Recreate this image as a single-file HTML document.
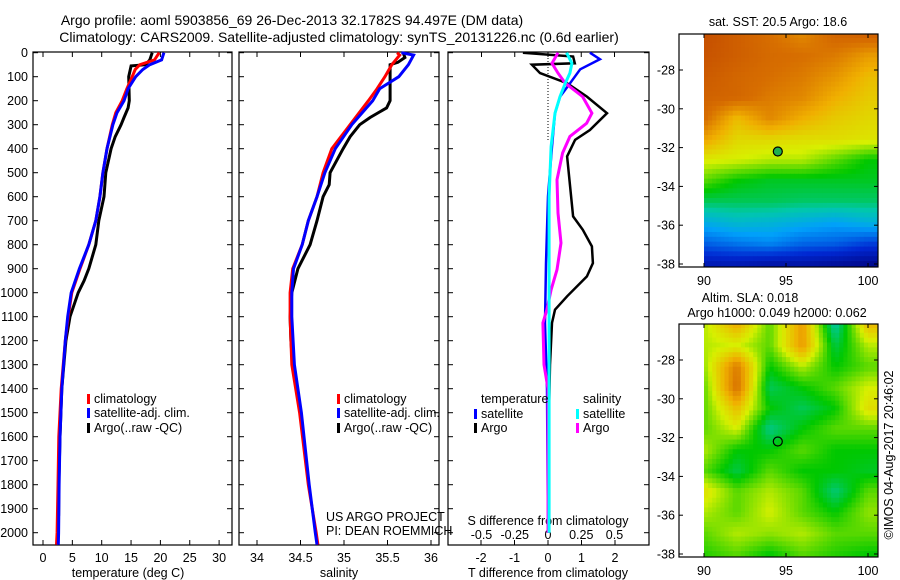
<!DOCTYPE html>
<html><head><meta charset="utf-8">
<style>
html,body{margin:0;padding:0;background:#fff;}
svg{display:block;font-family:"Liberation Sans",sans-serif;}
text{font-size:12.5px;fill:#000;}
</style></head>
<body>
<svg id="fig" width="900" height="580" viewBox="0 0 900 580" xmlns="http://www.w3.org/2000/svg">
<text x="292" y="25" text-anchor="middle" style="font-size:14px">Argo profile: aoml 5903856_69 26-Dec-2013 32.1782S 94.497E (DM data)</text>
<text x="339" y="42" text-anchor="middle" style="font-size:14px">Climatology: CARS2009. Satellite-adjusted climatology: synTS_20131226.nc (0.6d earlier)</text>
</svg>
<script>
// ---------- DATA ----------
const tempDepth = [0,30,50,70,100,150,200,250,300,400,500,600,700,800,900,1000,1100,1200,1400,1600,1800,2000,2050];
const tempClim  = [19.8,19,16.5,15.7,15.2,14.3,13.5,12.4,11.8,10.9,10.2,9.7,9.0,7.8,6.3,4.9,4.3,3.8,3.1,2.7,2.55,2.4,2.3];
const tempSat   = [20.6,20.2,18.2,17,15.8,14.5,13.8,12.6,11.9,10.9,10.2,9.7,9.0,7.8,6.2,4.8,4.2,3.8,3.2,2.9,2.75,2.65,2.6];
const argoDepth = [0,30,50,55,100,200,230,270,300,350,400,500,600,700,800,900,950,1000,1100,1200,1400,1600,1800,1930];
const tempArgo  = [18.6,18.2,17.5,15,14.6,14.7,14.5,13.8,13.3,12.3,11.6,10.7,10.4,9.5,9.0,7.8,7.0,6.0,4.6,3.9,3.2,2.9,2.7,2.65];
const salDepth  = [0,10,50,100,150,200,300,400,500,600,700,800,900,1000,1100,1300,1500,1800,2000,2050];
const salClim   = [35.61,35.64,35.55,35.47,35.38,35.28,35.07,34.86,34.76,34.69,34.59,34.52,34.41,34.38,34.38,34.40,34.49,34.59,34.68,34.70];
const salSat    = [35.66,35.80,35.74,35.63,35.41,35.33,35.09,34.90,34.78,34.69,34.59,34.52,34.42,34.40,34.40,34.43,34.51,34.60,34.67,34.69];
const salArgoDepth = [0,20,40,50,100,200,230,270,300,350,400,500,550,600,700,800,900,1000,1100,1200,1300];
const salArgo   = [35.68,35.70,35.62,35.53,35.53,35.53,35.49,35.30,35.18,35.07,34.99,34.84,34.83,34.76,34.69,34.61,34.47,34.40,34.38,34.39,34.41];
const dTArgoDepth = [0,16,44,50,85,127,183,252,322,363,432,557,682,738,807,877,932,1015,1071,1126,1300,1500,2000];
const dTArgo   = [-0.75,0.75,0.8,-0.48,-0.24,0.57,1.16,1.76,1.25,0.81,0.57,0.66,0.75,1.04,1.31,1.34,1.16,0.57,0.21,0.12,0.06,0.03,0.03];
const dTSatDepth = [0,27,69,127,183,252,391,599,877,1126,1400,2000];
const dTSat    = [1.25,1.55,0.96,0.66,0.36,0.21,0.12,0.0,-0.06,-0.09,-0.03,0.0];
const dSArgoDepth = [0,44,85,127,183,252,294,349,418,529,668,793,904,988,1071,1126,1300,1400,2000];
const dSArgo   = [0.075,0.03,0.075,0.13,0.26,0.33,0.29,0.165,0.11,0.068,0.075,0.098,0.068,0.023,-0.008,-0.038,-0.03,0.0,0.0];
const dSSatDepth = [0,44,85,127,183,252,391,599,2000];
const dSSat    = [0.14,0.18,0.165,0.13,0.09,0.053,0.023,0.008,0.008];
const depthTicks = [0,100,200,300,400,500,600,700,800,900,1000,1100,1200,1300,1400,1500,1600,1700,1800,1900,2000];
const tempTicks = [0,5,10,15,20,25,30];
const salTicks = [34,34.5,35,35.5,36];
const dTTicks = [-2,-1,0,1,2];
const dSTicks = [-0.5,-0.25,0,0.25,0.5];
const latTicks = [-28,-30,-32,-34,-36,-38];
const lonTicks = [90,95,100];
const gridLon = [90,92,94,96,98,100];
const gridLat = [-26.2,-27.27,-28.35,-29.42,-30.49,-31.56,-32.64,-33.71,-34.78,-35.85,-36.93,-38];
const sstGrid = [
[0.90,0.86,0.82,0.78,0.84,0.85],
[0.89,0.86,0.83,0.82,0.80,0.75],
[0.87,0.84,0.82,0.80,0.76,0.70],
[0.85,0.84,0.80,0.78,0.72,0.68],
[0.83,0.70,0.78,0.72,0.68,0.66],
[0.74,0.66,0.66,0.65,0.65,0.64],
[0.63,0.62,0.60,0.60,0.55,0.50],
[0.55,0.50,0.48,0.48,0.48,0.48],
[0.45,0.45,0.45,0.44,0.44,0.44],
[0.33,0.36,0.35,0.33,0.31,0.34],
[0.22,0.25,0.27,0.23,0.22,0.18],
[0.10,0.10,0.08,0.08,0.06,0.04]];
const slaGrid = [
[0.60,0.72,0.55,0.75,0.40,0.70],
[0.60,0.62,0.55,0.75,0.46,0.60],
[0.58,0.80,0.50,0.60,0.50,0.55],
[0.55,0.82,0.45,0.50,0.55,0.62],
[0.55,0.70,0.50,0.45,0.50,0.65],
[0.55,0.62,0.42,0.50,0.55,0.55],
[0.60,0.50,0.50,0.55,0.50,0.50],
[0.55,0.46,0.55,0.50,0.50,0.48],
[0.65,0.55,0.60,0.55,0.43,0.55],
[0.60,0.55,0.62,0.55,0.50,0.58],
[0.55,0.60,0.58,0.60,0.55,0.55],
[0.52,0.55,0.50,0.55,0.52,0.50]];
const argoPos = [94.5,-32.2];

// ---------- DRAWING ----------
const NS="http://www.w3.org/2000/svg";
const svg=document.getElementById('fig');
function mk(tag,attrs,parent){const e=document.createElementNS(NS,tag);for(const k in attrs)e.setAttribute(k,attrs[k]);(parent||svg).appendChild(e);return e;}
function txt(s,x,y,anchor,parent){const t=mk('text',{x:x,y:y,'text-anchor':anchor||'start'},parent);t.textContent=s;return t;}
const yD=d=>52.7+d*0.24;
const TOP=52,BOT=545;
function panel(x0,x1,name){
  const g=mk('g',{});
  
  
  const r=mk('rect',{x:x0,y:TOP,width:x1-x0,height:BOT-TOP,fill:'none',stroke:'#000','stroke-width':1.2},g);
  
  
  depthTicks.forEach(d=>{mk('line',{x1:x0,x2:x0+5,y1:yD(d),y2:yD(d),stroke:'#000'},g);mk('line',{x1:x1,x2:x1-5,y1:yD(d),y2:yD(d),stroke:'#000'},g);});
  return g;
}
function line(depths,vals,xf,color,w,name,parent){
  const p=mk('polyline',{points:depths.map((d,i)=>xf(vals[i]).toFixed(1)+','+yD(d).toFixed(1)).join(' '),fill:'none',stroke:color,'stroke-width':w,'stroke-linejoin':'miter'},parent);
  
  
}
// panel 1 temperature
const xT=v=>43+v*5.87;
const g1=panel(33,232,'temperature-panel');
depthTicks.forEach(d=>{const t=txt(String(d),28,yD(d)+4.5,'end',g1);});
tempTicks.forEach(v=>{mk('line',{x1:xT(v),x2:xT(v),y1:BOT,y2:BOT-5,stroke:'#000'},g1);mk('line',{x1:xT(v),x2:xT(v),y1:TOP,y2:TOP+5,stroke:'#000'},g1);const t=txt(String(v),xT(v),562,'middle',g1);});
{const t=txt('temperature (deg C)',128,577,'middle',g1);}
line(argoDepth,tempArgo,xT,'#000',3,'temp-argo-line',g1);
line(tempDepth,tempClim,xT,'#f00',3,'temp-climatology-line',g1);
line(tempDepth,tempSat,xT,'#00f',3,'temp-satellite-line',g1);
// panel 2 salinity
const xS=v=>257+(v-34)*87;
const g2=panel(239,439,'salinity-panel');
salTicks.forEach(v=>{mk('line',{x1:xS(v),x2:xS(v),y1:BOT,y2:BOT-5,stroke:'#000'},g2);mk('line',{x1:xS(v),x2:xS(v),y1:TOP,y2:TOP+5,stroke:'#000'},g2);const t=txt(String(v),xS(v),562,'middle',g2);});
{const t=txt('salinity',339,577,'middle',g2);}
line(salArgoDepth,salArgo,xS,'#000',3,'sal-argo-line',g2);
line(salDepth,salClim,xS,'#f00',3,'sal-climatology-line',g2);
line(salDepth,salSat,xS,'#00f',3,'sal-satellite-line',g2);
{const t=txt('US ARGO PROJECT',326,521,'start',g2);
 const t2=txt('PI: DEAN ROEMMICH',326,535,'start');}
// legends
function legend(x,y,color,label,name){
  const g=mk('g',{});
  
  
  mk('rect',{x:x,y:y-9,width:3,height:10,fill:color},g);txt(label,x+7,y,'start',g);
}
[87,337].forEach(lx=>{
  legend(lx,403,'#f00','climatology','legend-climatology');
  legend(lx,417,'#00f','satellite-adj. clim.','legend-satellite');
  legend(lx,432,'#000','Argo(..raw -QC)','legend-argo');
});
// panel 3 differences
const xdT=v=>548+v*33.5, xdS=v=>548+v*133;
const g3=panel(448,649,'difference-panel');
mk('line',{x1:548,x2:548,y1:TOP,y2:140,stroke:'#000','stroke-dasharray':'1,2'},g3);
dTTicks.forEach(v=>{mk('line',{x1:xdT(v),x2:xdT(v),y1:BOT,y2:BOT-5,stroke:'#000'},g3);const t=txt(String(v),xdT(v),562,'middle',g3);});
dSTicks.forEach(v=>{mk('line',{x1:xdS(v),x2:xdS(v),y1:TOP,y2:TOP+5,stroke:'#000'},g3);const t=txt(String(v),xdS(v),539,'middle',g3);});
{const t=txt('T difference from climatology',548,577,'middle',g3);
 const t2=txt('S difference from climatology',548,525,'middle',g3);}
line(dTArgoDepth,dTArgo,xdT,'#000',2.5,'dT-argo-line',g3);
line(dTSatDepth,dTSat,xdT,'#00f',2.5,'dT-satellite-line',g3);
line(dSArgoDepth,dSArgo,xdS,'#f0f',3,'dS-argo-line',g3);
line(dSSatDepth,dSSat,xdS,'#0ff',3,'dS-satellite-line',g3);
{const t=txt('temperature',481,403,'start');
 const t2=txt('salinity',583,403,'start');}
legend(474,418,'#00f','satellite','legend-t-satellite');
legend(474,432,'#000','Argo','legend-t-argo');
legend(576,418,'#0ff','satellite','legend-s-satellite');
legend(576,432,'#f0f','Argo','legend-s-argo');
// maps
const cmapStops=[[0,[0,0,120]],[0.15,[0,40,210]],[0.3,[0,160,250]],[0.4,[0,200,170]],[0.5,[0,200,0]],[0.62,[215,240,0]],[0.72,[240,175,0]],[0.82,[215,110,0]],[1,[175,40,0]]];
function cmap(v){
  v=Math.max(0,Math.min(1,v));
  for(let i=1;i<cmapStops.length;i++){
    if(v<=cmapStops[i][0]){
      const [a,ca]=cmapStops[i-1],[b,cb]=cmapStops[i],t=(v-a)/(b-a);
      return 'rgb('+ca.map((c,k)=>Math.round(c+(cb[k]-c)*t)).join(',')+')';
    }
  }
  return 'rgb(175,40,0)';
}
function sample(grid,lon,lat){
  let fj=(lon-90)/2; fj=Math.max(0,Math.min(gridLon.length-1.001,fj));
  let fi=(gridLat[0]-lat)/(gridLat[0]-gridLat[gridLat.length-1])*(gridLat.length-1); fi=Math.max(0,Math.min(gridLat.length-1.001,fi));
  const i=Math.floor(fi),j=Math.floor(fj),a=fi-i,b=fj-j;
  return grid[i][j]*(1-a)*(1-b)+grid[i+1][j]*a*(1-b)+grid[i][j+1]*(1-a)*b+grid[i+1][j+1]*a*b;
}
function map(top,grid,name,filled){
  const g=mk('g',{});
  
  
  const bot=top+233;
  const yL=lat=>top+36+(-28-lat)*19.4;
  const xL=lon=>704+(lon-90)*16.4;
  for(let lat=-26.1;lat>-38.2;lat-=0.25){
    for(let lon=90;lon<100.6;lon+=0.25){
      const y0=Math.max(top,yL(lat)),y1=Math.min(bot,yL(lat-0.25));
      if(y1<=y0)continue;
      mk('rect',{x:xL(lon).toFixed(2),y:y0.toFixed(2),width:(Math.min(878,xL(lon+0.25))-xL(lon)+0.4).toFixed(2),height:(y1-y0+0.4).toFixed(2),fill:cmap(sample(grid,lon+0.125,lat-0.125))},g);
    }
  }
  mk('rect',{x:679,y:top,width:199,height:bot-top,fill:'none',stroke:'#000','stroke-width':1.2},g);
  latTicks.forEach(l=>{mk('line',{x1:679,x2:683,y1:yL(l),y2:yL(l),stroke:'#000'},g);mk('line',{x1:878,x2:874,y1:yL(l),y2:yL(l),stroke:'#000'},g);const t=txt(String(l),675,yL(l)+4.5,'end',g);});
  lonTicks.forEach(l=>{mk('line',{x1:xL(l),x2:xL(l),y1:bot,y2:bot-4,stroke:'#000'},g);mk('line',{x1:xL(l),x2:xL(l),y1:top,y2:top+4,stroke:'#000'},g);const t=txt(String(l),xL(l),bot+18,'middle',g);});
  const c=mk('circle',{cx:xL(argoPos[0]),cy:yL(argoPos[1]),r:4.5,fill:filled?'#1fb050':'none',stroke:'#000','stroke-width':1.2},g);
  
  
}
map(34,sstGrid,'sst-map',true);
map(324,slaGrid,'sla-map',false);
{const t=txt('sat. SST: 20.5 Argo: 18.6',778,26,'middle');
 const t2=txt('Altim. SLA: 0.018',750,302,'middle');
 const t3=txt('Argo h1000: 0.049 h2000: 0.062',777,317,'middle');
 const t4=txt('©IMOS 04-Aug-2017 20:46:02',893,455,'middle');t4.setAttribute('transform','rotate(-90 893 455)');}
</script>
</body></html>
